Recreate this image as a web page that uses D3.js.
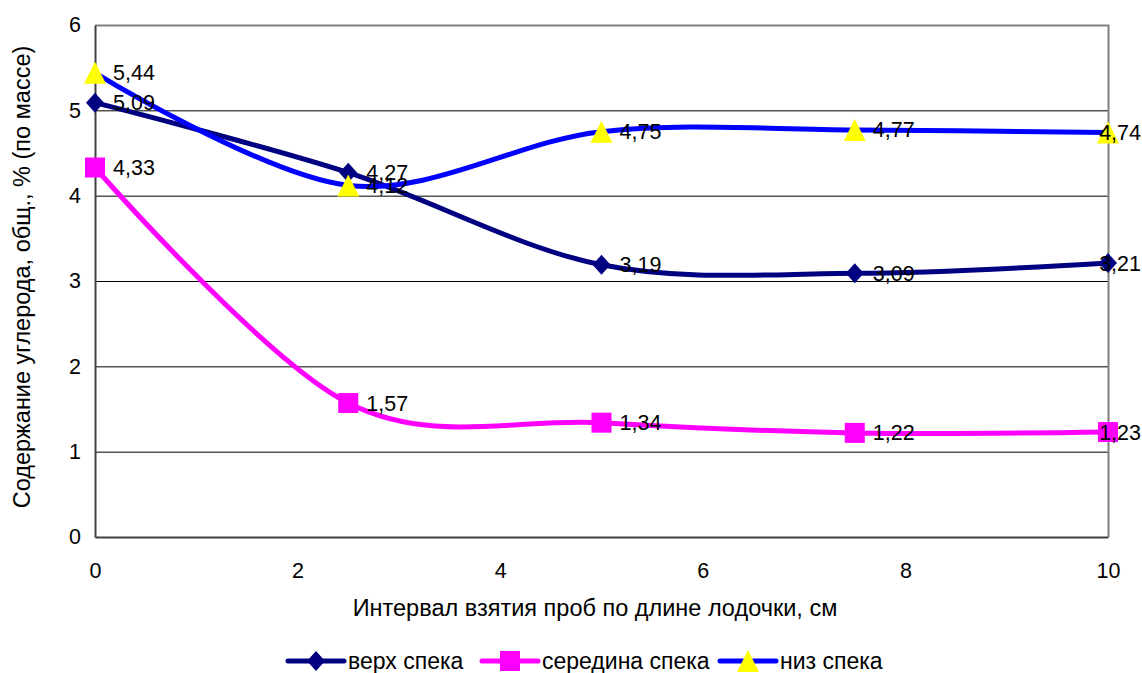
<!DOCTYPE html>
<html>
<head>
<meta charset="utf-8">
<script src="https://cdn.jsdelivr.net/npm/d3@7"></script>
<style>
  html, body { margin: 0; padding: 0; background: #fff; }
  svg { display: block; font-family: Arial, "Liberation Sans", sans-serif; }
</style>
</head>
<body>
<svg id="chart" width="1142" height="673"></svg>
<script>
// Sampling positions along the boat, cm
const positions = [0, 2.5, 5, 7.5, 10];
// Carbon content, % by mass
const topLayer = [5.09, 4.27, 3.19, 3.09, 3.21];
const middleLayer = [4.33, 1.57, 1.34, 1.22, 1.23];
const bottomLayer = [5.44, 4.12, 4.75, 4.77, 4.74];
const seriesNames = ["верх спека", "середина спека", "низ спека"];
const xTicks = [0, 2, 4, 6, 8, 10];
const yTicks = [0, 1, 2, 3, 4, 5, 6];

const W = 1142, H = 673;
const m = { left: 95, right: 1108, top: 25, bottom: 537 };
const tickFont = 21.5;
const labelFont = 21.5;
const titleFont = 23.5;
const legendFont = 23;

const svg = d3.select("#chart");
const x = d3.scaleLinear().domain([0, 10]).range([m.left, m.right]);
const y = d3.scaleLinear().domain([0, 6]).range([m.bottom, m.top]);

// Horizontal gridlines
svg.append("g").selectAll("line")
  .data(yTicks.filter(d => d > 0 && d < 6))
  .join("line")
  .attr("x1", m.left).attr("x2", m.right)
  .attr("y1", d => y(d) + 0.5).attr("y2", d => y(d) + 0.5)
  .attr("stroke", "#000").attr("stroke-width", 1);

// Plot frame: top and right in grey
svg.append("path")
  .attr("d", `M${m.left},${m.top + 0.5}H${m.right + 0.5}V${m.bottom}`)
  .attr("fill", "none").attr("stroke", "#808080").attr("stroke-width", 2);

// Axes
const yAxis = d3.axisLeft(y).tickValues(yTicks).tickFormat(d3.format("d")).tickSize(0).tickPadding(14);
const xAxis = d3.axisBottom(x).tickValues(xTicks).tickFormat(d3.format("d")).tickSize(0).tickPadding(26);

const gy = svg.append("g").attr("transform", `translate(${m.left},0)`).call(yAxis);
const gx = svg.append("g").attr("transform", `translate(0,${m.bottom})`).call(xAxis);
[gx, gy].forEach(g => {
  g.select(".domain").attr("stroke", "#404040").attr("stroke-width", 2);
  g.selectAll("text").attr("font-size", tickFont).attr("fill", "#000")
    .attr("font-family", "Arial, 'Liberation Sans', sans-serif");
});

// Axis titles
svg.append("text")
  .attr("x", 595).attr("y", 616)
  .attr("text-anchor", "middle").attr("font-size", titleFont)
  .text("Интервал взятия проб по длине лодочки, см");
svg.append("text")
  .attr("transform", "translate(30,277) rotate(-90)")
  .attr("text-anchor", "middle").attr("font-size", titleFont)
  .text("Содержание углерода, общ., % (по массе)");

const line = d3.line()
  .x(d => x(d.x)).y(d => y(d.y))
  .curve(d3.curveCardinal.tension(0));

const markers = {
  diamond: g => g.append("path").attr("d", "M0,-10L9,0L0,10L-9,0Z"),
  square: g => g.append("rect").attr("x", -10).attr("y", -10).attr("width", 20).attr("height", 20),
  triangle: g => g.append("path").attr("d", "M0,-11L11,11L-11,11Z")
};

const series = [
  { name: seriesNames[0], values: topLayer, line: "#000080", fill: "#000080", marker: "diamond" },
  { name: seriesNames[1], values: middleLayer, line: "#FF00FF", fill: "#FF00FF", marker: "square" },
  { name: seriesNames[2], values: bottomLayer, line: "#0000FF", fill: "#FFFF00", marker: "triangle" }
];

series.forEach(s => {
  const pts = positions.map((p, i) => ({ x: p, y: s.values[i] }));
  svg.append("path").datum(pts)
    .attr("d", line).attr("fill", "none")
    .attr("stroke", s.line).attr("stroke-width", 5);
  svg.append("g").selectAll("g").data(pts).join("g")
    .attr("transform", d => `translate(${x(d.x)},${y(d.y)})`)
    .each(function () { markers[s.marker](d3.select(this)).attr("fill", s.fill); });
});

// Value labels, kept inside the chart area
series.forEach(s => {
  positions.forEach((p, i) => {
    const t = svg.append("text")
      .attr("font-size", labelFont).attr("fill", "#000")
      .attr("y", y(s.values[i]) + 7.5)
      .text(s.values[i].toFixed(2).replace(".", ","));
    const w = t.node().getComputedTextLength();
    t.attr("x", Math.min(x(p) + 18, W - w - 1));
  });
});

// Legend
const legend = svg.append("g").attr("transform", "translate(0,661)");
const legendItems = [
  { s: series[0], x0: 288 },
  { s: series[1], x0: 482 },
  { s: series[2], x0: 720 }
];
legendItems.forEach(({ s, x0 }) => {
  legend.append("line").attr("x1", x0).attr("x2", x0 + 56)
    .attr("stroke", s.line).attr("stroke-width", 5).attr("stroke-linecap", "round");
  const mk = legend.append("g").attr("transform", `translate(${x0 + 28},0)`);
  markers[s.marker](mk).attr("fill", s.fill);
  legend.append("text").attr("x", x0 + 60).attr("y", 8)
    .attr("font-size", legendFont).text(s.name);
});
</script>
</body>
</html>
